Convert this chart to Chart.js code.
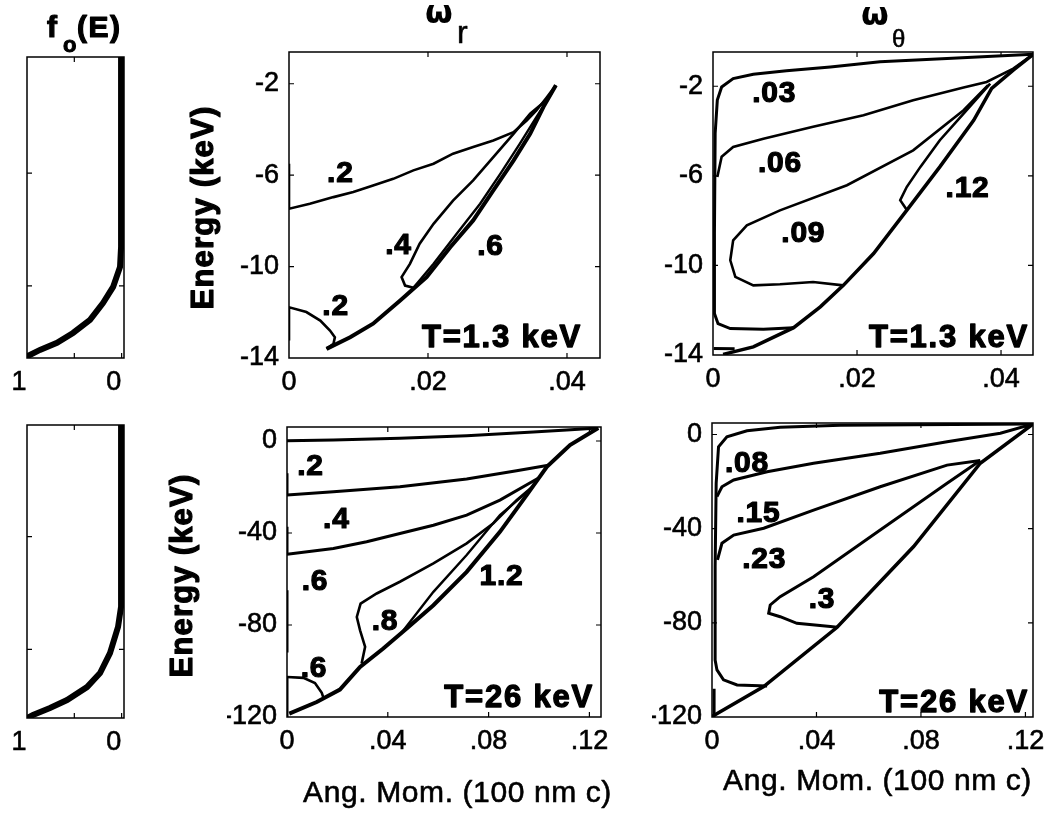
<!DOCTYPE html>
<html lang="en">
<head>
<meta charset="UTF-8" />
<title>Orbit frequencies vs angular momentum</title>
<script src="https://cdn.jsdelivr.net/npm/chart.js"></script>
<style>
  body { margin: 0; background: #fff; }
  #wrap { position: relative; width: 1049px; height: 813px; overflow: hidden; background: #fff; }
  canvas { position: absolute; left: 0; top: 0; }
</style>
</head>
<body>
<div id="wrap">
  <canvas id="foTop" width="1049" height="813"></canvas>
  <canvas id="wrLow" width="1049" height="813"></canvas>
  <canvas id="wtLow" width="1049" height="813"></canvas>
  <canvas id="foBot" width="1049" height="813"></canvas>
  <canvas id="wrHigh" width="1049" height="813"></canvas>
  <canvas id="wtHigh" width="1049" height="813"></canvas>
</div>
<script>
// ---- ticks ----
const xTicksLow = [0, 0.02, 0.04];
const xTicksHigh = [0, 0.04, 0.08, 0.12];
const yTicksLow = [-2, -6, -10, -14];
const yTicksHigh = [0, -40, -80, -120];
const foXTicks = [1, 0.5, 0];
const foXLabels = ['1', '', '0'];
const foTopYTicks = [-5.8, -10.8];
const foBotYTicks = [-42, -90.5];

// ---- f_o(E), [f, E] ----
const foLow = [[0.006,-0.65],[0.006,-9.07],[0.017,-9.96],[0.09,-10.85],[0.197,-11.56],[0.334,-12.31],[0.514,-12.89],[0.683,-13.33],[0.863,-13.64],[0.99,-13.91],[1,-14]];
const foHigh = [[0.006,6],[0.006,-72.1],[0.038,-80.8],[0.123,-92.1],[0.228,-100.7],[0.366,-106.7],[0.577,-112.3],[0.757,-115.7],[0.937,-118.7],[1,-120]];

// ---- omega_r, T=1.3 keV, [L, E] ----
const wrLow02 = [[0,-5.5],[0,-7.47],[0.003,-7.25],[0.0064,-6.96],[0.00925,-6.74],[0.0121,-6.45],[0.015,-6.16],[0.0179,-5.79],[0.0208,-5.5],[0.0236,-5.06],[0.0265,-4.77],[0.0294,-4.48],[0.0323,-4.12],[0.0342,-3.61],[0.0356,-3.17],[0.0371,-2.59],[0.0384,-2.07]];
const wrLow04 = [[0.0371,-2.7],[0.0347,-3.31],[0.0323,-4.19],[0.0294,-5.21],[0.0265,-6.23],[0.0236,-7.11],[0.0208,-8.13],[0.0188,-9.0],[0.0174,-9.88],[0.0162,-10.46],[0.0167,-10.83],[0.0179,-10.93]];
const wrLow06 = [[0.0179,-10.93],[0.0208,-9.88],[0.0241,-8.57],[0.0275,-7.25],[0.0304,-5.94],[0.0332,-4.63],[0.0356,-3.46],[0.0376,-2.51],[0.0384,-2.07]];
const wrLowEdge = [[0.0054,-13.6],[0.0088,-13.09],[0.0121,-12.5],[0.016,-11.48],[0.0198,-10.46],[0.0232,-9.15],[0.0265,-7.98],[0.0294,-6.67],[0.0323,-5.36],[0.0347,-4.19],[0.0366,-3.02],[0.0384,-2.07]];
const wrLowCorner = [[0,-13.23],[0,-11.78],[0.0025,-11.99],[0.0045,-12.36],[0.0059,-12.8],[0.0066,-13.09],[0.0064,-13.38],[0.0054,-13.6]];
const wrLowLabels = [['.2',0.0074,-6.32],['.4',0.01576,-9.43],['.6',0.029,-9.51],['.2',0.0067,-12.14]];

// ---- omega_theta, T=1.3 keV ----
const wtLowTop = [[0.0445,-0.57],[0.0325,-0.76],[0.0232,-0.91],[0.0163,-1.14],[0.0102,-1.31],[0.0056,-1.46],[0.0028,-1.66],[0.0012,-2.03],[0.0006,-2.62],[0.0003,-4.11],[0.0002,-8.58],[0.0002,-12.15],[0.0007,-12.6],[0.0024,-12.82],[0.007,-12.85],[0.0112,-12.78]];
const wtLow06 = [[0.0006,-6.05],[0.0012,-5.15],[0.0028,-4.71],[0.007,-4.34],[0.0139,-3.81],[0.0209,-3.29],[0.0278,-2.62],[0.0348,-2.06],[0.038,-1.81],[0.0417,-1.21],[0.0445,-0.57]];
const wtLow09 = [[0.0382,-1.95],[0.0348,-3.07],[0.0278,-4.86],[0.0186,-6.42],[0.0093,-7.54],[0.0047,-8.21],[0.0028,-8.88],[0.0024,-9.77],[0.0031,-10.51],[0.0056,-10.89],[0.0093,-10.84],[0.0139,-10.74],[0.0181,-10.89]];
const wtLow12 = [[0.0385,-1.88],[0.0348,-3.22],[0.0315,-4.41],[0.0288,-5.6],[0.0269,-6.5],[0.026,-7.09],[0.0269,-7.51]];
const wtLowEdge = [[0.0014,-13.97],[0.0056,-13.64],[0.0112,-12.78],[0.0149,-11.85],[0.0181,-10.89],[0.0223,-9.47],[0.0269,-7.54],[0.0315,-5.6],[0.0362,-3.52],[0.0387,-2.1],[0.0417,-1.28],[0.0445,-0.57]];
const wtLowFloor = [[0.0001,-13.71],[0.003,-13.72]];
const wtLowLabels = [['.03',0.0085,-2.70],['.06',0.0093,-5.83],['.09',0.01254,-8.95],['.12',0.03535,-6.94]];

// ---- omega_r, T=26 keV ----
const wrHighTop = [[0,0.14],[0.0184,0.44],[0.0448,1.16],[0.0713,2.32],[0.0977,3.92],[0.111,4.79],[0.1235,5.66]];
const wrHigh02 = [[0,-23.5],[0.0184,-22.1],[0.0448,-19.9],[0.0713,-16.5],[0.0911,-12.9],[0.1037,-10.5]];
const wrHigh04 = [[0,-49.2],[0.0184,-46.7],[0.0316,-43.8],[0.0448,-40.2],[0.0581,-36.6],[0.0713,-32.2],[0.0845,-25.7],[0.1,-16]];
const wrHigh06 = [[0.0296,-96.8],[0.031,-89.5],[0.029,-82.3],[0.0277,-76.5],[0.0292,-70.7],[0.0356,-66.3],[0.0448,-61.2],[0.0581,-53.2],[0.0713,-44.5],[0.0819,-35.8],[0.0911,-25.7],[0.0975,-19.8]];
const wrHigh12 = [[0.045,-84],[0.0581,-65.6],[0.0713,-49.6],[0.0845,-32.2],[0.097,-20.6]];
const wrHighEdge = [[0.0009,-118.5],[0.0118,-113.5],[0.021,-108.1],[0.029,-98.2],[0.0382,-90.2],[0.0475,-81.5],[0.0581,-71.4],[0.0713,-56.9],[0.0845,-39.5],[0.0951,-23.5],[0.1031,-11.2],[0.1123,-1.74],[0.1235,5.66]];
const wrHighCorner = [[0,-102.6],[0.0065,-103],[0.0111,-105.2],[0.0138,-109.5],[0.0145,-111.8]];
const wrHighAxis = [[[0,-14],[0,-23.5]],[[0,-37.3],[0,-49.2]],[[0,-64.9],[0,-92]],[[0,-102.6],[0,-120]]];
const wrHighLabels = [['.2',0.0093,-14.8],['.4',0.0196,-37.9],['.6',0.0111,-64.9],['.8',0.0389,-82.3],['1.2',0.0851,-62.7],['.6',0.0107,-102.7]];

// ---- omega_theta, T=26 keV ----
const wtHighTop = [[0.1229,4.46],[0.0772,4.17],[0.0491,3.9],[0.0261,3.06],[0.0134,1.6],[0.0057,-0.93],[0.0025,-5.2],[0.0016,-20.7],[0.0012,-56.1],[0.0012,-95.8],[0.0019,-100],[0.0044,-104.2],[0.0096,-106.4],[0.0211,-106.8]];
const wtHigh08 = [[0.0019,-26.4],[0.0038,-22.2],[0.0083,-19.3],[0.0211,-15.8],[0.0389,-12.2],[0.0644,-8.0],[0.09,-3.06],[0.1104,0.51],[0.1229,4.46]];
const wtHigh15 = [[0.0021,-53.3],[0.0038,-46.2],[0.0083,-42.7],[0.0198,-39.8],[0.0389,-32.1],[0.0644,-22.2],[0.09,-13],[0.1027,-11]];
const wtHigh30 = [[0.1027,-11],[0.09,-20.7],[0.0644,-40.6],[0.0389,-60.4],[0.0261,-68.9],[0.0223,-72.4],[0.0217,-75.9],[0.0261,-77.4],[0.0325,-80.2],[0.0453,-81.6],[0.0479,-81.9]];
const wtHighEdge = [[0,-119.8],[0.0198,-107.1],[0.0479,-81.9],[0.0772,-47.6],[0.1027,-12.2],[0.1229,4.46]];
const wtHighFoot = [[0.0008,-108],[0.0008,-119.8]];
const wtHighLabels = [['.08',0.0134,-15.9],['.15',0.0178,-37.2],['.23',0.02,-56.7],['.3',0.0421,-73.8]];

// ---- drawing ----
const FONT = "'Liberation Sans', Arial, Helvetica, sans-serif";
const BOLD = s => 'bold ' + s + 'px ' + FONT;
const REG = s => s + 'px ' + FONT;
const W = 1049, H = 813;

function fmt(v) {
  if (v === 0) return '0';
  return String(Math.round(v * 1000) / 1000).replace(/^(-?)0\./, '$1.');
}

function line(pts, w) {
  return {
    data: pts.map(([x, y]) => ({ x, y })),
    showLine: true, borderColor: '#000', borderWidth: w || 2.6,
    pointRadius: 0, fill: false, tension: 0
  };
}

function axis(a, horiz, size) {
  return {
    type: 'linear', min: a.min, max: a.max, reverse: !!a.reverse,
    grid: { display: false, drawTicks: false },
    border: { display: false },
    ticks: {
      color: '#000', font: { family: FONT, size: 27 },
      textStrokeColor: '#000', textStrokeWidth: 0.6,
      padding: horiz ? 8 : 10, autoSkip: false, maxRotation: 0, minRotation: 0,
      labelOffset: a.offset || 0,
      callback: (v, i) => a.labels ? a.labels[i] : fmt(v)
    },
    afterBuildTicks: s => { s.ticks = a.ticks.map(v => ({ value: v })); },
    afterFit: s => {
      if (horiz) { s.height = size; s.paddingLeft = 0; s.paddingRight = 0; }
      else { s.width = size; s.paddingTop = 0; s.paddingBottom = 0; }
    }
  };
}

// box outline + inward MATLAB-style ticks
const frame = {
  id: 'frame',
  afterDraw(chart) {
    const { ctx, chartArea: c } = chart;
    const xs = chart.scales.x, ys = chart.scales.y;
    ctx.save();
    ctx.strokeStyle = '#000';
    ctx.lineWidth = 1.5;
    ctx.strokeRect(c.left, c.top, c.right - c.left, c.bottom - c.top);
    ctx.lineWidth = 1.2;
    ctx.beginPath();
    xs.ticks.forEach(t => {
      const p = xs.getPixelForValue(t.value);
      if (p < c.left + 2 || p > c.right - 2) return;
      ctx.moveTo(p, c.bottom); ctx.lineTo(p, c.bottom - 5);
      ctx.moveTo(p, c.top); ctx.lineTo(p, c.top + 5);
    });
    ys.ticks.forEach(t => {
      const p = ys.getPixelForValue(t.value);
      if (p < c.top + 2 || p > c.bottom - 2) return;
      ctx.moveTo(c.left, p); ctx.lineTo(c.left + 5, p);
      ctx.moveTo(c.right, p); ctx.lineTo(c.right - 5, p);
    });
    ctx.stroke();
    ctx.restore();
  }
};

const notes = {
  id: 'notes',
  afterDraw(chart, args, opts) {
    const ctx = chart.ctx, xs = chart.scales.x, ys = chart.scales.y;
    (opts.items || []).forEach(n => {
      ctx.save();
      ctx.font = n.font;
      ctx.fillStyle = '#000';
      ctx.strokeStyle = '#000';
      ctx.textAlign = n.align || 'center';
      ctx.textBaseline = 'alphabetic';
      ctx.letterSpacing = (n.sp || 0) + 'px';
      let x = n.x, y = n.y;
      if (n.data) { x = xs.getPixelForValue(n.x); y = ys.getPixelForValue(n.y); }
      ctx.translate(x, y);
      if (n.rot) ctx.rotate(n.rot);
      ctx.fillText(n.t, 0, 0);
      if (n.stroke) { ctx.lineWidth = n.stroke; ctx.lineJoin = 'round'; ctx.strokeText(n.t, 0, 0); }
      ctx.restore();
    });
  }
};

function panel(id, box, xa, ya, sets, items, yw) {
  const xh = 45;
  new Chart(document.getElementById(id), {
    type: 'scatter',
    data: { datasets: sets },
    options: {
      responsive: false, animation: false, devicePixelRatio: 1,
      layout: { padding: { left: box.l - yw, top: box.t, right: W - box.r, bottom: H - box.b - xh } },
      plugins: { legend: { display: false }, tooltip: { enabled: false }, notes: { items } },
      scales: { x: axis(xa, true, xh), y: axis(ya, false, yw) }
    },
    plugins: [frame, notes]
  });
}

const labelItems = arr => arr.map(([t, x, y]) => ({ t, x, y, data: true, font: BOLD(30), sp: 0.8, stroke: 1.2 }));
const energyTitle = (x, y) => ({ t: 'Energy (keV)', x, y, font: BOLD(31), sp: 1.2, stroke: 1.2, rot: -Math.PI / 2 });
const angTitle = (x, y) => ({ t: 'Ang. Mom. (100 nm c)', x, y, font: REG(30), sp: 0.6, stroke: 0.6 });
const tempLabel = (t, x, y) => ({ t, x, y, font: BOLD(31), align: 'right', sp: 1.8, stroke: 1.3 });
const OMEGA = "bold 32px 'DejaVu Sans', sans-serif";

// f_o, low T
panel('foTop', { l: 27, t: 57, r: 124, b: 358 },
  { min: -0.025, max: 1, reverse: true, ticks: foXTicks, labels: foXLabels, offset: -8 },
  { min: -14, max: -0.65, ticks: foTopYTicks, labels: ['', ''] },
  [line(foLow, 6)],
  [
    { t: 'f', x: 47, y: 37, font: BOLD(30), align: 'left', stroke: 1.2 },
    { t: 'o', x: 63, y: 52, font: BOLD(22), align: 'left', stroke: 1 },
    { t: '(E)', x: 77, y: 37, font: BOLD(30), align: 'left', sp: 1.5, stroke: 1.2 }
  ], 10);

// omega_r, low T
panel('wrLow', { l: 289, t: 52, r: 600, b: 358 },
  { min: 0, max: 0.04475, ticks: xTicksLow },
  { min: -14, max: -0.61, ticks: yTicksLow },
  [line(wrLow02), line(wrLow04), line(wrLow06, 2.4), line(wrLowEdge, 4), line(wrLowCorner)],
  labelItems(wrLowLabels).concat([
    tempLabel('T=1.3 keV', 582, 347),
    { t: '\u03C9', x: 425, y: 23, font: OMEGA, align: 'left' },
    { t: 'r', x: 457, y: 43, font: REG(32), align: 'left', stroke: 0.6 },
    energyTitle(213, 207.5)
  ]), 60);

// omega_theta, low T
panel('wtLow', { l: 713, t: 52, r: 1033, b: 355 },
  { min: 0, max: 0.04444, ticks: xTicksLow },
  { min: -14, max: -0.47, ticks: yTicksLow },
  [line(wtLowTop, 3), line(wtLow06), line(wtLow09), line(wtLow12), line(wtLowEdge, 3.5), line(wtLowFloor, 3)],
  labelItems(wtLowLabels).concat([
    tempLabel('T=1.3 keV', 1029, 347),
    { t: '\u03C9', x: 861, y: 25, font: OMEGA, align: 'left' },
    { t: '\u03B8', x: 892, y: 47, font: REG(24), align: 'left', stroke: 0.6 }
  ]), 60);

// f_o, high T
panel('foBot', { l: 27, t: 425, r: 124, b: 718 },
  { min: -0.025, max: 1, reverse: true, ticks: foXTicks, labels: foXLabels, offset: -8 },
  { min: -120, max: 6, ticks: foBotYTicks, labels: ['', ''] },
  [line(foHigh, 6)], [], 10);

// omega_r, high T
panel('wrHigh', { l: 287, t: 427, r: 601, b: 717 },
  { min: 0, max: 0.1246, ticks: xTicksHigh },
  { min: -120, max: 6.09, ticks: yTicksHigh },
  [line(wrHighTop, 3), line(wrHigh02, 3), line(wrHigh04, 3), line(wrHigh06), line(wrHigh12, 2.4),
   line(wrHighEdge, 4), line(wrHighCorner)].concat(wrHighAxis.map(s => line(s, 3))),
  labelItems(wrHighLabels).concat([
    tempLabel('T=26 keV', 594, 707),
    energyTitle(192, 575.5),
    angTitle(457.5, 801.7)
  ]), 60);

// omega_theta, high T
panel('wtHigh', { l: 712, t: 423, r: 1033, b: 717 },
  { min: 0, max: 0.1229, ticks: xTicksHigh },
  { min: -120, max: 4.89, ticks: yTicksHigh },
  [line(wtHighTop, 3), line(wtHigh08, 3), line(wtHigh15, 3), line(wtHigh30, 3), line(wtHighEdge, 3.5), line(wtHighFoot, 3)],
  labelItems(wtHighLabels).concat([
    tempLabel('T=26 keV', 1029, 712),
    angTitle(877.5, 790)
  ]), 60);
</script>
</body>
</html>
